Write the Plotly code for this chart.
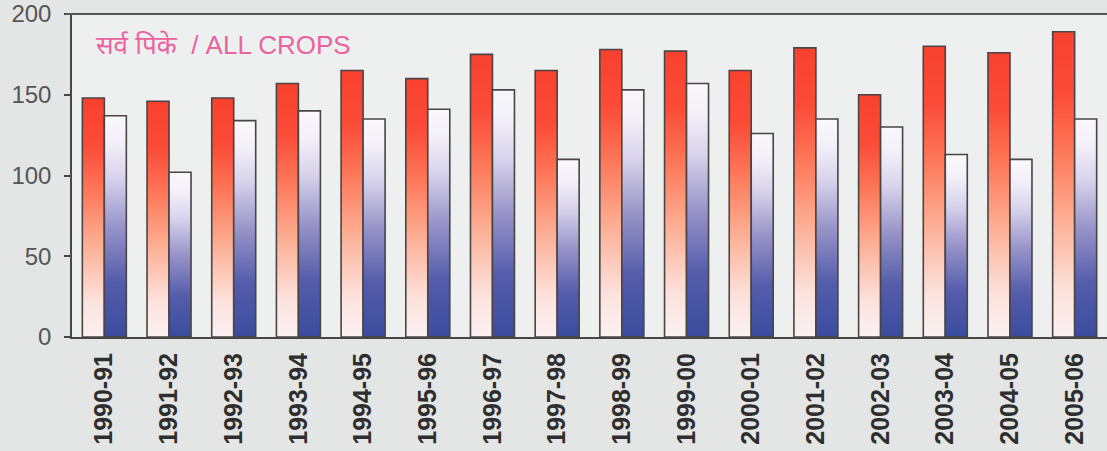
import plotly.graph_objects as go

# data
seasons = ['1990-91', '1991-92', '1992-93', '1993-94', '1994-95', '1995-96',
           '1996-97', '1997-98', '1998-99', '1999-00', '2000-01', '2001-02',
           '2002-03', '2003-04', '2004-05', '2005-06']
red_vals = [148, 146, 148, 157, 165, 160, 175, 165, 178, 177, 165, 179, 150, 180, 176, 189]
blue_vals = [137, 102, 134, 140, 135, 141, 153, 110, 153, 157, 126, 135, 130, 113, 110, 135]

red_scale = [[0, '#fbf1f3'], [0.15, '#fce2dc'], [0.4, '#fdab90'], [0.62, '#fd7556'], [0.8, '#fb4c38'], [1, '#f7412f']]
blue_scale = [[0, '#3a4c9e'], [0.25, '#545dab'], [0.5, '#9894c9'], [0.72, '#d8d3ec'], [0.88, '#f3f0f9'], [1, '#faf8fc']]

bw = 0.34  # bar width in category units

fig = go.Figure()


def add_bar(x0, x1, v, scale):
    fig.add_trace(go.Scatter(
        x=[x0, x0, x1, x1, x0],
        y=[0, v, v, 0, 0],
        mode='lines',
        fill='toself',
        fillgradient=dict(type='vertical', colorscale=scale, start=0, stop=v),
        line=dict(color='#4a4444', width=1.6),
        hoverinfo='skip',
        showlegend=False,
    ))


for i, s in enumerate(seasons):
    add_bar(i - bw, i, red_vals[i], red_scale)
    add_bar(i, i + bw, blue_vals[i], blue_scale)

fig.add_annotation(
    x=0.021, y=0.905, xref='paper', yref='paper',
    xanchor='left', yanchor='middle', showarrow=False,
    text='सर्व पिके  / ALL CROPS',
    font=dict(family='Liberation Sans, Arial, Noto Sans', size=26, color='#e9639e'),
)

fig.update_layout(
    width=1107, height=451,
    margin=dict(l=72, r=0, t=14, b=114),
    paper_bgcolor='#e4e6e6',
    plot_bgcolor='#eef0f0',
    xaxis=dict(
        range=[-0.5, 15.5],
        tickvals=list(range(len(seasons))),
        ticktext=seasons,
        tickangle=-90,
        ticks='',
        ticklabelstandoff=4,
        showgrid=False,
        zeroline=False,
        showline=True,
        linecolor='#4a4444',
        linewidth=2,
        tickfont=dict(family='Liberation Sans, Arial', size=25, color='#2e2e2e', weight='bold'),
    ),
    yaxis=dict(
        range=[0, 200],
        tickvals=[0, 50, 100, 150, 200],
        ticks='outside',
        ticklen=6,
        tickwidth=1.5,
        tickcolor='#4a4444',
        ticklabelstandoff=8,
        showgrid=False,
        zeroline=False,
        showline=True,
        linecolor='#4a4444',
        linewidth=1.5,
        tickfont=dict(family='Liberation Sans, Arial', size=24, color='#555555'),
    ),
    shapes=[dict(type='line', xref='paper', yref='paper', x0=-0.006, x1=1, y0=1, y1=1,
                 line=dict(color='#555555', width=2))],
)

fig.write_html('out.html', config={'displayModeBar': False},
               post_script="document.body.style.margin='0';")
